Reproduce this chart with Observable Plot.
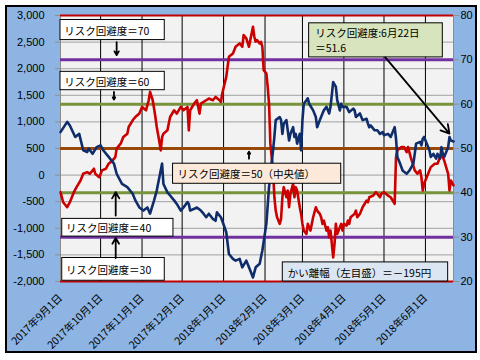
<!DOCTYPE html>
<html><head><meta charset="utf-8">
<script src="https://cdn.jsdelivr.net/npm/d3@7"></script>
<script src="https://cdn.jsdelivr.net/npm/@observablehq/plot@0.6"></script>
<style>
html,body{margin:0;padding:0;background:#fff;}
#wrap{position:relative;width:480px;height:360px;overflow:hidden;}
#bg{position:absolute;left:5px;top:5px;width:472px;height:348px;box-sizing:border-box;border:2.5px solid #000;background:#8DB4E2;}
#chart{position:absolute;left:0;top:0;}
</style></head><body>
<div id="wrap"><div id="bg"></div><div id="chart"></div></div>
<script>
// ---- data (day offset from 2017-09-01) ----
const startDate = "2017-09-01";
const navyDays = [0,5,7,11,14,17,20,21,24,27,30,32,36,40,42,46,50,54,56,59,62,65,67,70,72,76,77,80,82,85,87,90,92,95,96,97,100,102,105,107,109,111,114,116,117,120,121,124,126,129,131,134,136,139,141,144,146,149,151,154,156,159,160,161,164,165,166,167,169,170,171,172,174,175,176,177,179,180,181,182,184,185,186,189,191,192,194,196,197,199,201,202,204,206,207,209,210,211,214,216,219,220,221,224,226,229,230,231,232,235,237,239,241,242,245,247,250,251,252,254,256,259,261,264,265,266,269,270,271,272,274,276,277,279,281,282,284,285,286,287,290,291,292,294];
const navyRisk = [53.7,56.0,55.2,52.6,53.3,49.6,49.2,50.0,48.8,50.3,50.7,49.6,48.1,46.6,44.3,42.0,41.3,39.8,38.3,36.7,36.0,36.7,35.3,38.3,40.5,46.6,42.0,40.1,39.4,38.3,37.5,36.0,36.7,37.9,37.5,36.0,36.4,36.7,36.0,35.3,34.5,35.3,34.1,33.7,35.6,34.5,33.7,31.1,26.2,25.1,24.7,25.1,23.2,24.7,23.2,20.9,23.2,24.0,27.0,33.0,41.3,49.6,52.6,56.4,57.1,56.4,53.3,55.6,56.4,54.1,51.8,53.3,54.8,52.6,53.3,51.1,53.3,49.6,56.4,60.1,60.9,61.3,60.1,58.6,57.1,54.8,56.4,57.9,58.6,59.4,57.9,59.4,65.0,63.9,60.9,58.6,60.1,59.4,59.4,58.2,59.0,58.6,57.1,57.9,56.4,56.7,55.6,54.8,55.2,54.1,54.1,53.3,53.7,53.0,53.3,52.6,54.8,52.2,48.1,46.6,45.0,44.3,45.0,46.6,48.8,51.1,51.5,50.7,52.2,52.6,51.1,49.6,48.1,48.8,47.7,48.8,47.7,50.3,48.8,48.1,50.3,52.6,51.8,51.6];
const redDays = [0,2,5,7,10,12,15,17,20,22,25,26,29,31,34,36,39,41,42,45,47,50,51,54,56,59,61,64,66,67,69,71,72,74,75,76,77,80,81,82,85,87,90,92,95,96,97,100,102,104,105,107,109,111,114,116,119,120,121,124,126,129,131,134,136,137,139,141,142,144,145,146,147,149,150,151,152,154,155,156,157,159,160,161,162,164,165,166,167,169,170,171,172,174,175,176,177,179,180,181,182,184,185,186,187,189,191,192,194,195,196,197,199,200,201,202,204,205,206,207,209,210,211,212,214,215,216,217,220,221,222,224,226,229,230,231,234,236,239,240,242,245,247,250,251,252,255,257,259,260,262,265,267,269,270,271,272,275,277,280,282,285,287,290,291,292,294];
const redGap = [-321,-510,-604,-510,-321,-227,-101,25,56,25,120,25,-39,88,120,214,276,338,497,591,715,779,904,1030,1092,1156,1281,1219,1407,1564,1407,1092,904,621,465,715,779,842,968,1092,1219,1156,1281,1219,1281,842,1219,1345,1407,1156,1345,1375,1407,1439,1407,1469,1407,1375,1533,1846,2223,2287,2412,2476,2412,2632,2570,2412,2538,2789,2600,2506,2538,2476,2506,2412,1973,1910,1658,1345,591,88,-416,-667,-793,-917,-823,-416,-227,-416,-289,-604,-352,-163,-416,-227,-289,-604,-729,-917,-1043,-1106,-917,-981,-1043,-793,-604,-667,-729,-793,-917,-855,-1043,-981,-1170,-1043,-1547,-1294,-917,-1106,-981,-917,-1043,-917,-949,-855,-917,-793,-729,-667,-793,-729,-604,-478,-510,-416,-384,-321,-416,-352,-321,-384,-416,-540,338,465,527,527,433,527,338,88,25,88,-39,-289,-163,25,150,214,214,402,276,25,-289,-101,-195];
const leftTicks = [-2000,-1500,-1000,-500,0,500,1000,1500,2000,2500,3000];
const rightTicks = [20,30,40,50,60,70,80];
const monthTicks = ["2017-09-01","2017-10-01","2017-11-01","2017-12-01","2018-01-01","2018-02-01","2018-03-01","2018-04-01","2018-05-01","2018-06-01"];
const refLevels = [80,70,60,50,40,30,20];
const refColors = ["#C00000","#7030A0","#77933C","#984807","#77933C","#7030A0","#C00000"];

// ---- helpers ----
const start = new Date(startDate);
const at = d => new Date(start.getTime() + d * 86400000);
const toLeft = r => -2000 + (r - 20) * 5000 / 60;
const red = redDays.map((d, i) => ({date: at(d), v: redGap[i]}));
const navy = navyDays.map((d, i) => ({date: at(d), v: toLeft(navyRisk[i])}));
const months = monthTicks.map(s => new Date(s));
const fmtMonth = d => `${d.getUTCFullYear()}年${d.getUTCMonth()+1}月${d.getUTCDate()}日`;
const fmtLeft = d => d3.format(",")(d).replace("−", "-");

// annotations (data coords: day offset, left-axis value)
const boxes = [
  {x1:0, x2:78, y1:2538, y2:2915, fill:"#FFFFFF"},
  {x1:0, x2:78, y1:1596, y2:1941, fill:"#FFFFFF"},
  {x1:1.3, x2:84.5, y1:-1156, y2:-823, fill:"#FFFFFF"},
  {x1:1.3, x2:78, y1:-1986, y2:-1558, fill:"#FFFFFF"},
  {x1:84.2, x2:210, y1:-163, y2:214, fill:"#FDE9D9"},
  {x1:186, x2:286, y1:2212, y2:2853, fill:"#D7E4BD"},
  {x1:166.3, x2:290, y1:-2000, y2:-1641, fill:"#DCE6F2"}
];
const notes = [
  {x:2.8, y:2727, text:"リスク回避度＝70"},
  {x:2.8, y:1768, text:"リスク回避度＝60"},
  {x:4.2, y:-990, text:"リスク回避度＝40"},
  {x:4.2, y:-1772, text:"リスク回避度＝30"},
  {x:87.5, y:25, text:"リスク回避度＝50（中央値）"},
  {x:190.5, y:2538, text:"リスク回避度:6月22日\n＝51.6"},
  {x:170, y:-1826, text:"かい離幅（左目盛）＝－195円"}
];
const arrows = [
  {x1:42, y1:2500, x2:42, y2:2255, h:6},
  {x1:40, y1:1564, x2:40, y2:1420, h:5},
  {x1:41.3, y1:-761, x2:41.3, y2:-321, h:6},
  {x1:41.3, y1:-1558, x2:41.3, y2:-1181, h:6},
  {x1:141, y1:308, x2:141, y2:440, h:5},
  {x1:243, y1:2212, x2:291, y2:779, h:8}
];

const marks = [
  Plot.frame({fill:"#F2F2F2"}),
  Plot.ruleY(leftTicks, {stroke:"#A0A0A0", strokeWidth:1}),
  Plot.ruleX(months.slice(1), {stroke:"#000", strokeWidth:1}),
  Plot.frame({stroke:"#8C8C8C", strokeWidth:1}),
];
refLevels.forEach((r, i) => {
  const edge = (r === 80 || r === 20);
  marks.push(Plot.ruleY([toLeft(r)], {stroke: refColors[i], strokeWidth: edge ? 2 : 3}));
});
marks.push(
  Plot.line(red, {x:"date", y:"v", stroke:"#CC0000", strokeWidth:2.6, strokeLinejoin:"round"}),
  Plot.line(navy, {x:"date", y:"v", stroke:"#0F2D6B", strokeWidth:2.6, strokeLinejoin:"round"}),
  Plot.axisY({ticks:leftTicks, tickFormat:fmtLeft, tickSize:5, tickPadding:11, stroke:"#909090", fill:"#000", fontSize:11, fontFamily:"'Liberation Sans', Arial, sans-serif"}),
  Plot.axisY({anchor:"right", ticks:rightTicks.map(toLeft), tickFormat: v => String(Math.round(20 + (v + 2000) * 60 / 5000)), tickSize:5, tickPadding:2, stroke:"#909090", fill:"#000", fontSize:11, fontFamily:"'Liberation Sans', Arial, sans-serif"}),
  Plot.text(months, {x:d => d, frameAnchor:"bottom", text:fmtMonth, rotate:-45, textAnchor:"end", lineAnchor:"bottom", dx:2.5, dy:17, fontSize:10.5, fill:"#000"}),
  Plot.rect(boxes, {x1:d => at(d.x1), x2:d => at(d.x2), y1:"y1", y2:"y2", fill:d => d.fill, stroke:"#000", strokeWidth:1}),
  Plot.text(notes, {x:d => at(d.x), y:"y", text:"text", textAnchor:"start", lineAnchor:"middle", lineHeight:1.4, fontSize:10.5, fill:"#000"}),
  ...arrows.map(a => Plot.arrow([a], {x1:d => at(d.x1), y1:"y1", x2:d => at(d.x2), y2:"y2", stroke:"#000", strokeWidth:1.8, headLength:a.h}))
);

const chart = Plot.plot({
  width:480, height:360,
  marginLeft:60, marginRight:27, marginTop:15, marginBottom:79,
  style:{background:"none", overflow:"visible", fontFamily:"'Noto Sans CJK JP', sans-serif", fontSize:"10.5px", color:"#000"},
  x:{type:"utc", domain:[at(0), at(294)], axis:null},
  y:{domain:[-2000,3000], axis:null},
  marks
});
document.getElementById("chart").appendChild(chart);
</script>
</body></html>
